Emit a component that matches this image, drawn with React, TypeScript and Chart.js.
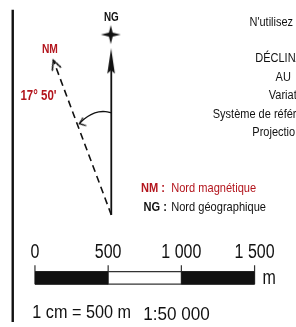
import React, { useEffect, useRef } from "react";
import { Chart, registerables } from "chart.js";

Chart.register(...registerables);

// ---------------- data ----------------
const DECLINATION_LABEL = "17° 50'";
const NORTH_LABELS = ["NM", "NG"];
const LEGEND_CODES = ["NM :", "NG :"];
const LEGEND_NAMES = ["Nord magnétique", "Nord géographique"];
const SCALE_TICKS = [0, 500, 1000, 1500];
const SCALE_TICK_LABELS = ["0", "500", "1 000", "1 500"];
const SCALE_BLACK_SEGMENTS: number[][] = [
  [0, 500],
  [1000, 1500],
];
const SCALE_UNIT = "m";
const SCALE_EQUIVALENCE = "1 cm = 500 m";
const SCALE_RATIO = "1:50 000";
const NOTE_LINES = ["N'utilisez", "DÉCLINAISON", "AU", "Variation", "Système de référence", "Projection"];

// ---------------- layout / style ----------------
const W = 296;
const H = 327;
const RED = "#b3151d";
const BLACK = "#111111";
const GREY = "#333333";
const SCALE_LEFT_PX = 31;
const SCALE_PX_PER_M = 227.3 / 1500;
const XM_MIN = -SCALE_LEFT_PX / SCALE_PX_PER_M;
const XM_MAX = XM_MIN + W / SCALE_PX_PER_M;

const PIVOT = { x: 110, y: 216.5 };
const NM_TIP = { x: 50, y: 57 };
const NG_SHAFT_TOP = 60;
const ARC = [
  { x: 110.5, y: 111.5 },
  { x: 104, y: 110 },
  { x: 97, y: 110.3 },
  { x: 89, y: 113 },
  { x: 82, y: 117.5 },
  { x: 77, y: 122.5 },
];
const BAR_TOP = 275;
const BAR_BOTTOM = 288;
const TICK_TOP = 268.5;

const NOTE_POS = [
  { x: 253, y: 22 },
  { x: 259, y: 59 },
  { x: 280, y: 78 },
  { x: 273, y: 97 },
  { x: 215, y: 116.5 },
  { x: 256, y: 135 },
];

function makeCanvas(w: number, h: number, draw: (c: CanvasRenderingContext2D) => void) {
  const c = document.createElement("canvas");
  c.width = w;
  c.height = h;
  const g = c.getContext("2d")!;
  draw(g);
  return c;
}

function drawText(
  ctx: CanvasRenderingContext2D,
  s: string,
  x: number,
  y: number,
  size: number,
  o: { bold?: boolean; color?: string; align?: CanvasTextAlign; squeeze?: number } = {}
) {
  ctx.save();
  ctx.translate(x, y);
  ctx.scale(o.squeeze ?? 0.82, 1);
  ctx.font = `${o.bold ? "bold " : ""}${size}px "Liberation Sans", Arial, sans-serif`;
  ctx.fillStyle = o.color ?? BLACK;
  ctx.textAlign = o.align ?? "left";
  ctx.textBaseline = "alphabetic";
  ctx.fillText(s, 0, 0);
  ctx.restore();
}

const textPlugin = {
  id: "mapTexts",
  afterDatasetsDraw(chart: any) {
    const ctx: CanvasRenderingContext2D = chart.ctx;
    const sx = chart.scales.x;
    const sy = chart.scales.y;
    const sm = chart.scales.xm;
    const X = (v: number) => sx.getPixelForValue(v);
    const Y = (v: number) => sy.getPixelForValue(v);

    // north labels
    drawText(ctx, NORTH_LABELS[0], X(46.5), Y(50), 12.5, { bold: true, color: RED, align: "center" });
    drawText(ctx, NORTH_LABELS[1], X(110), Y(16.5), 12, { bold: true, color: BLACK, align: "center" });
    drawText(ctx, DECLINATION_LABEL, X(16), Y(97.5), 14, { bold: true, color: RED });

    // right notes (clipped by the frame)
    NOTE_LINES.forEach((s, i) =>
      drawText(ctx, s, X(NOTE_POS[i].x), Y(NOTE_POS[i].y), 12.5, { squeeze: 0.88 })
    );

    // legend
    const legY = [193, 212];
    const legCodeX = [165.5, 167.5];
    LEGEND_CODES.forEach((s, i) => {
      const col = i === 0 ? RED : BLACK;
      drawText(ctx, s, X(legCodeX[i]), Y(legY[i]), 13.5, { bold: true, color: col, align: "right" });
      drawText(ctx, LEGEND_NAMES[i], X(172), Y(legY[i]), 13.5, { color: col });
    });

    // scale labels
    SCALE_TICKS.forEach((t, i) => {
      drawText(ctx, SCALE_TICK_LABELS[i], sm.getPixelForValue(t), Y(260.7), 19.5, { align: "center" });
    });
    drawText(ctx, SCALE_UNIT, X(266.5), Y(287.5), 19.5);
    drawText(ctx, SCALE_EQUIVALENCE, X(28.3), Y(322.7), 18, { squeeze: 0.9 });
    drawText(ctx, SCALE_RATIO, X(143), Y(325), 18, { squeeze: 0.95 });
  },
};

export default function App() {
  const ref = useRef<HTMLCanvasElement>(null);

  useEffect(() => {
    const canvas = ref.current!;

    const star = makeCanvas(22, 22, (g) => {
      const c = 11, R = 10, r = 1.9;
      g.fillStyle = BLACK;
      g.beginPath();
      g.moveTo(c, c - 9.5);
      g.lineTo(c + r, c - r);
      g.lineTo(c + R, c);
      g.lineTo(c + r, c + r);
      g.lineTo(c, c + 9.5);
      g.lineTo(c - r, c + r);
      g.lineTo(c - R, c);
      g.lineTo(c - r, c - r);
      g.closePath();
      g.fill();
    });
    const ngHead = makeCanvas(10, 26, (g) => {
      g.fillStyle = BLACK;
      g.beginPath();
      g.moveTo(5, 0);
      g.lineTo(8.8, 25.5);
      g.lineTo(5, 22);
      g.lineTo(1.2, 25.5);
      g.closePath();
      g.fill();
    });
    const chevron = (len: number, half: number, lw: number) =>
      makeCanvas(30, 30, (g) => {
        const a = (half * Math.PI) / 180;
        g.strokeStyle = BLACK;
        g.lineWidth = lw;
        g.lineCap = "round";
        g.lineJoin = "miter";
        g.beginPath();
        g.moveTo(15 - Math.sin(a) * len, 15 + Math.cos(a) * len);
        g.lineTo(15, 15);
        g.lineTo(15 + Math.sin(a) * len, 15 + Math.cos(a) * len);
        g.stroke();
      });
    const nmHead = chevron(10, 26, 1.6);
    const arcHead = chevron(6.5, 38, 1.3);
    const nmRot = (Math.atan2(NM_TIP.x - PIVOT.x, PIVOT.y - NM_TIP.y) * 180) / Math.PI;

    const line = (data: any[], extra: any = {}) => ({
      data,
      showLine: true,
      pointRadius: 0,
      borderColor: BLACK,
      borderWidth: 1.5,
      ...extra,
    });
    const point = (p: any, style: HTMLCanvasElement, rotation = 0) => ({
      data: [p],
      showLine: false,
      pointStyle: style,
      pointRadius: 5,
      rotation,
      borderWidth: 0,
    });

    const datasets: any[] = [
      line([{ x: 8, y: 5 }, { x: 8, y: H }], { borderWidth: 2.4 }),
      line([{ x: PIVOT.x, y: PIVOT.y }, { x: PIVOT.x, y: NG_SHAFT_TOP }], { borderWidth: 1.8 }),
      point({ x: 109.8, y: 58 }, ngHead),
      point({ x: 109.5, y: 30.5 }, star),
      line([PIVOT, NM_TIP], { borderDash: [7, 4.5], borderWidth: 1.6 }),
      point(NM_TIP, nmHead, nmRot),
      line(ARC, { tension: 0.4, borderWidth: 1.3 }),
      point(ARC[ARC.length - 1], arcHead, -112),
      ...SCALE_BLACK_SEGMENTS.map((seg) =>
        line(
          seg.map((m) => ({ x: m, y: (BAR_TOP + BAR_BOTTOM) / 2 })),
          { xAxisID: "xm", borderWidth: BAR_BOTTOM - BAR_TOP, borderCapStyle: "butt" }
        )
      ),
      line(
        [
          { x: SCALE_TICKS[0], y: BAR_TOP },
          { x: SCALE_TICKS[SCALE_TICKS.length - 1], y: BAR_TOP },
        ],
        { xAxisID: "xm", borderWidth: 1.3, borderColor: GREY }
      ),
      line(
        [
          { x: SCALE_TICKS[0], y: BAR_BOTTOM },
          { x: SCALE_TICKS[SCALE_TICKS.length - 1], y: BAR_BOTTOM },
        ],
        { xAxisID: "xm", borderWidth: 1.3, borderColor: GREY }
      ),
      ...SCALE_TICKS.map((t) =>
        line(
          [
            { x: t, y: TICK_TOP },
            { x: t, y: BAR_BOTTOM },
          ],
          { xAxisID: "xm", borderWidth: 1.2, borderColor: GREY }
        )
      ),
    ];

    const chart = new Chart(canvas, {
      type: "scatter",
      data: { datasets },
      options: {
        animation: false,
        responsive: false,
        maintainAspectRatio: false,
        events: [],
        layout: { padding: 0 },
        plugins: { legend: { display: false }, tooltip: { enabled: false } },
        scales: {
          x: { type: "linear", display: false, min: 0, max: W },
          xm: { type: "linear", axis: "x", display: false, min: XM_MIN, max: XM_MAX },
          y: { type: "linear", display: false, min: 0, max: H, reverse: true },
        },
      } as any,
      plugins: [textPlugin],
    });
    return () => chart.destroy();
  }, []);

  return (
    <div style={{ position: "absolute", left: 0, top: 0, width: W, height: H, background: "#fff" }}>
      <canvas ref={ref} width={W} height={H} style={{ display: "block" }} />
    </div>
  );
}
